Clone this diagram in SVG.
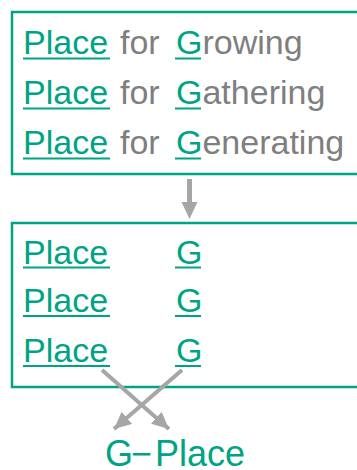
<svg xmlns="http://www.w3.org/2000/svg" width="357" height="470" viewBox="0 0 357 470">
<defs>
<style>
.box{fill:#fff;stroke:#00a383;stroke-width:2.5}
.t{font-family:"Liberation Sans",Arial,sans-serif;font-size:34px}
.g{fill:#00a383}
.k{fill:#7f7f7f}
.ul{stroke:#00a383;stroke-width:2.2}
.arr{stroke:#a6a6a6;stroke-width:4;fill:none}
</style>
<marker id="ah" markerUnits="userSpaceOnUse" markerWidth="18" markerHeight="16" refX="17" refY="8" orient="auto">
<path d="M0,0 L17,8 L0,16 Z" fill="#a6a6a6"/>
</marker>
</defs>
<rect width="357" height="470" fill="#fff"/>
<g id="box1">
<rect class="box" x="12" y="12" width="360" height="162"/>
<text class="t" y="54"><tspan class="g" x="23">Place</tspan><tspan class="k" x="120">for</tspan><tspan class="g" x="176">G</tspan><tspan class="k">rowing</tspan></text>
<text class="t" y="104"><tspan class="g" x="23">Place</tspan><tspan class="k" x="120">for</tspan><tspan class="g" x="176">G</tspan><tspan class="k">athering</tspan></text>
<text class="t" y="154"><tspan class="g" x="23">Place</tspan><tspan class="k" x="120">for</tspan><tspan class="g" x="176">G</tspan><tspan class="k">enerating</tspan></text>
<path class="ul" d="M23,58.5H110M175,58.5H201M23,108.5H110M175,108.5H201M23,158.5H110M175,158.5H201"/>
</g>
<g id="box2">
<rect class="box" x="12" y="223" width="360" height="164"/>
<text class="t g" y="263.5"><tspan x="23">Place</tspan><tspan x="176">G</tspan></text>
<text class="t g" y="312"><tspan x="23">Place</tspan><tspan x="176">G</tspan></text>
<text class="t g" y="362"><tspan x="23">Place</tspan><tspan x="176">G</tspan></text>
<path class="ul" d="M23,267.5H110M175,267.5H201M23,316H110M175,316H201M23,366H110M175,366H201"/>
</g>
<g id="result">
<text class="g" style="font-family:'Liberation Sans',Arial,sans-serif;font-size:36px" y="466"><tspan x="105">G</tspan><tspan x="131">−</tspan><tspan x="155">Place</tspan></text>
</g>
<g id="connectors">
<line x1="189.5" y1="179" x2="189.5" y2="203" stroke="#a6a6a6" stroke-width="5"/>
<path d="M181.5,202 L197.5,202 L189.5,219 Z" fill="#a6a6a6"/>
<line class="arr" x1="102" y1="370" x2="169" y2="429" marker-end="url(#ah)"/>
<line class="arr" x1="182" y1="370" x2="114" y2="429" marker-end="url(#ah)"/>
</g>
</svg>
